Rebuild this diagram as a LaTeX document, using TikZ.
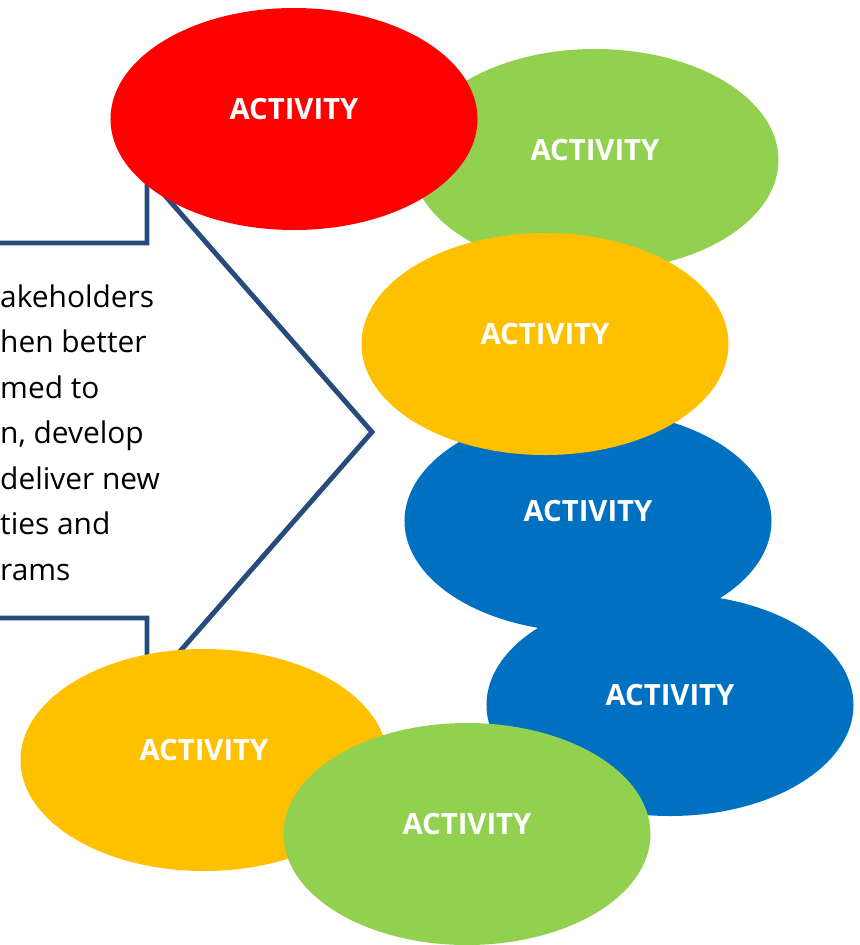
\documentclass[tikz,border=0pt]{standalone}
\usepackage{fontspec}
\setmainfont{Open Sans}
\usetikzlibrary{shapes.geometric, positioning}
\definecolor{actred}{RGB}{255,0,0}
\definecolor{actgreen}{RGB}{146,208,80}
\definecolor{actyellow}{RGB}{255,192,0}
\definecolor{actblue}{RGB}{0,112,192}
\definecolor{bracketcolor}{RGB}{38,76,124}

\begin{document}
\begin{tikzpicture}[
    x=0.03cm, y=-0.03cm,
    activity/.style={ellipse, fill=#1, minimum width=11.01cm, minimum height=6.66cm, inner sep=0pt, text=white, font=\fontsize{25}{30}\selectfont\bfseries, text height=10pt, text depth=10pt},
    bracket/.style={draw=bracketcolor, line width=4.2pt, line join=miter},
    body/.style={align=left, anchor=base west, inner sep=0pt, font=\fontsize{25.5}{38.8}\selectfont}
]
    \useasboundingbox (0,0) rectangle (859,945);
    \clip (0,0) rectangle (859,945);

    % Text
    \node[body] (info) at (0,580) {akeholders\\hen better\\med to\\n, develop\\deliver new\\ties and\\rams};

    % Bracket
    \coordinate (upend) at (-5,243);
    \coordinate (top) at (147,175);
    \coordinate (tip) at (372,432);
    \coordinate (bot) at (147,689);
    \coordinate (lowend) at (-5,618);
    \draw[bracket] (upend) -| (top) -- (tip) -- (bot) |- (lowend);

    % Activities
    \node[activity=actgreen] (act2) at (595,160) {ACTIVITY};
    \node[activity=actred] (act1) at (294,119) {ACTIVITY};
    \node[activity=actblue] (act4) at (588,521) {ACTIVITY};
    \node[activity=actyellow] (act3) at (545,344) {ACTIVITY};
    \node[activity=actblue] (act5) at (670,705) {ACTIVITY};
    \node[activity=actyellow] (act6) at (204,760) {ACTIVITY};
    \node[activity=actgreen] (act7) at (467,834) {ACTIVITY};
\end{tikzpicture}
\end{document}
